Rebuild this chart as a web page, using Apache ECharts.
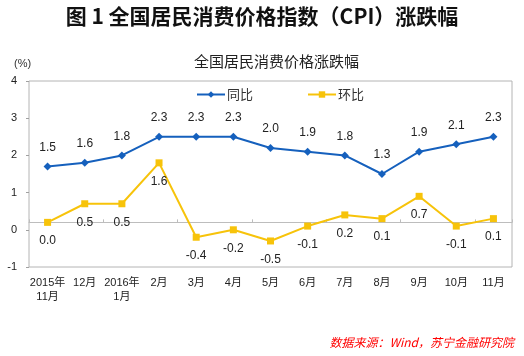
<!DOCTYPE html>
<html>
<head>
<meta charset="utf-8">
<script src="https://cdn.jsdelivr.net/npm/echarts@6/dist/echarts.min.js"></script>
<style>html,body{margin:0;padding:0;background:#fff;}#c{width:524px;height:356px;}</style>
</head>
<body>
<div id="c"></div>
<script>
var categories = ['2015年\n11月','12月','2016年\n1月','2月','3月','4月','5月','6月','7月','8月','9月','10月','11月'];
var yoy = [1.5, 1.6, 1.8, 2.3, 2.3, 2.3, 2.0, 1.9, 1.8, 1.3, 1.9, 2.1, 2.3];
var mom = [0.0, 0.5, 0.5, 1.6, -0.4, -0.2, -0.5, -0.1, 0.2, 0.1, 0.7, -0.1, 0.1];
var yTickLabels = ['-1','0','1','2','3','4'];

var chart = echarts.init(document.getElementById('c'), null, {renderer: 'canvas'});
var cjk = '"Liberation Sans", Arial, "Noto Sans CJK SC", sans-serif';
var option = {
  backgroundColor: '#ffffff',
  animation: false,
  title: [
    {text: '图 1 全国居民消费价格指数（CPI）涨跌幅', left: 'center', top: 1,
     textStyle: {fontSize: 21, fontWeight: 'bold', color: '#111', fontFamily: '"Noto Sans CJK SC", sans-serif'}},
    {text: '全国居民消费价格涨跌幅', left: 189, top: 49,
     textStyle: {fontSize: 15, fontWeight: 'normal', color: '#222', fontFamily: '"Noto Sans CJK SC", sans-serif'}},
    {text: '(%)', left: 9, top: 53,
     textStyle: {fontSize: 11, fontWeight: 'normal', color: '#333', fontFamily: cjk}},
    {text: '数据来源：Wind，苏宁金融研究院', right: 5, top: 331,
     textStyle: {fontSize: 12, fontWeight: 'normal', fontStyle: 'italic', color: '#ff0000', fontFamily: '"Noto Sans CJK SC", sans-serif'}}
  ],
  legend: {
    left: 191, top: 83, itemGap: 54, itemWidth: 28, itemHeight: 8,
    textStyle: {fontSize: 13, color: '#333', fontFamily: '"Noto Sans CJK SC", sans-serif', padding: [0,0,0,-3]},
    data: ['同比', '环比']
  },
  grid: {left: 29, right: 12, top: 81, bottom: 89, show: true, borderColor: '#b4b4b4', borderWidth: 1, containLabel: false},
  xAxis: [
    {type: 'category', data: categories, boundaryGap: true, position: 'bottom',
     axisLine: {show: true, onZero: true, onZeroAxisIndex: 0, lineStyle: {color: '#bdbdbd', width: 1}},
     axisTick: {show: true, inside: true, length: 3, lineStyle: {color: '#bdbdbd'}},
     axisLabel: {show: false}, splitLine: {show: false}},
    {type: 'category', data: categories, boundaryGap: true, position: 'bottom',
     axisLine: {show: false, onZero: false}, axisTick: {show: false},
     axisLabel: {show: true, interval: 0, margin: 9, fontSize: 11, lineHeight: 14, color: '#222', fontFamily: cjk},
     splitLine: {show: false}}
  ],
  yAxis: [
    {type: 'value', min: -1.2, max: 3.8, show: false, splitLine: {show: false}},
    {type: 'value', min: -1, max: 4, interval: 1, position: 'left',
     axisLine: {show: false}, splitLine: {show: false},
     axisTick: {show: true, inside: false, length: 3, lineStyle: {color: '#a0a0a0'}},
     axisLabel: {margin: 12, fontSize: 11, color: '#222', fontFamily: cjk,
       formatter: function (v) { var i = Math.round(v + 1); return yTickLabels[i] !== undefined ? yTickLabels[i] : ''; }}}
  ],
  series: [
    {name: '同比', type: 'line', data: yoy, xAxisIndex: 0, yAxisIndex: 0,
     symbol: 'diamond', symbolSize: 8, lineStyle: {color: '#1560bd', width: 2},
     itemStyle: {color: '#1560bd'},
     label: {show: true, position: 'top', distance: 9, fontSize: 12, color: '#222', fontFamily: cjk,
       formatter: function (p) { return p.value.toFixed(1); }}},
    {name: '环比', type: 'line', data: mom, xAxisIndex: 0, yAxisIndex: 0,
     symbol: 'rect', symbolSize: 7, lineStyle: {color: '#f7c30a', width: 2},
     itemStyle: {color: '#f7c30a'},
     label: {show: true, position: 'bottom', distance: 9, fontSize: 12, color: '#222', fontFamily: cjk,
       formatter: function (p) { return p.value.toFixed(1); }}}
  ]
};
chart.setOption(option);
</script>
</body>
</html>
